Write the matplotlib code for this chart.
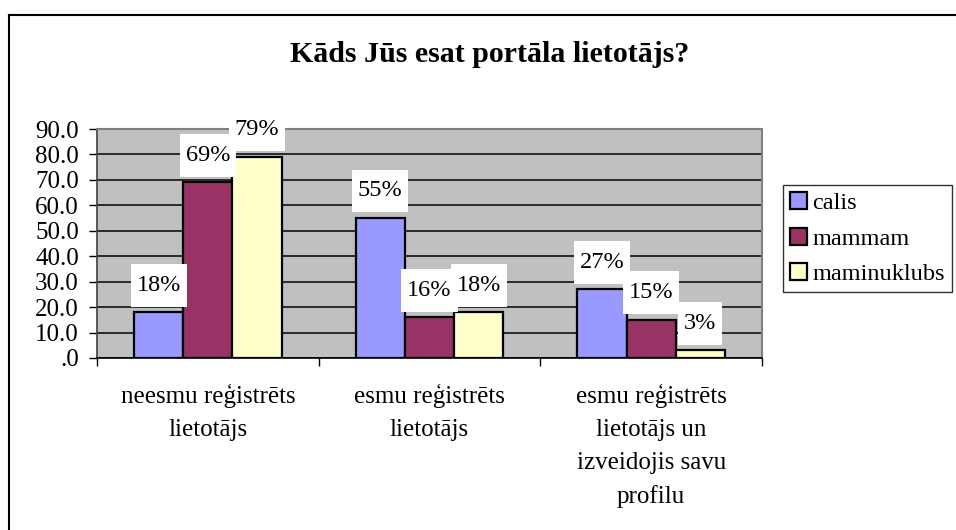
import matplotlib
matplotlib.use("Agg")
import matplotlib.pyplot as plt
from matplotlib.path import Path
import numpy as np

categories = ["neesmu reģistrēts\nlietotājs",
              "esmu reģistrēts\nlietotājs",
              "esmu reģistrēts\nlietotājs un\nizveidojis savu\nprofilu"]
series_names = ["calis", "mammam", "maminuklubs"]
calis = [18, 55, 27]
mammam = [69, 16, 15]
maminuklubs = [79, 18, 3]
series_values = [calis, mammam, maminuklubs]
colors = ["#9999FF", "#993366", "#FFFFCC"]
yticks = [0, 10, 20, 30, 40, 50, 60, 70, 80, 90]
title = "Kāds Jūs esat portāla lietotājs?"

plt.rcParams['font.family'] = ['Liberation Serif', 'DejaVu Serif']

W, H = 956, 530
fig = plt.figure(figsize=(W / 100, H / 100), dpi=100)
fig.patch.set_facecolor("white")

# outer chart border (left and top visible; right/bottom cut off)
fig.add_artist(plt.Line2D([8.5 / W, 8.5 / W], [0, 1 - 14.5 / H], transform=fig.transFigure,
                          color="black", lw=1.5))
fig.add_artist(plt.Line2D([8.5 / W, 1], [1 - 14.5 / H, 1 - 14.5 / H], transform=fig.transFigure,
                          color="black", lw=1.5))

left, right, top, bottom = 97 / W, 762 / W, 129 / H, 358 / H
ax = fig.add_axes([left, 1 - bottom, right - left, bottom - top])
ax.set_facecolor("#C0C0C0")


def label_box(x0, y0, width, height, mutation_size):
    padx = 0.24 * mutation_size
    pady = 0.45 * mutation_size
    return Path([(x0 - padx, y0 - pady), (x0 + width + padx, y0 - pady),
                 (x0 + width + padx, y0 + height + pady), (x0 - padx, y0 + height + pady),
                 (x0 - padx, y0 - pady)], closed=True)


x = np.arange(len(categories))
bw = 0.667 / 3
for i, (name, vals, c) in enumerate(zip(series_names, series_values, colors)):
    pos = x - bw + i * bw
    ax.bar(pos, vals, width=bw, color=c, edgecolor="black", linewidth=1.6,
           label=name, zorder=3)
    for px, v in zip(pos, vals):
        ax.annotate(f"{v}%", (px, v), xytext=(0, 19.5), textcoords="offset points",
                    ha="center", va="center", fontsize=17.5, zorder=5,
                    bbox=dict(boxstyle=label_box, fc="white", ec="none"),
                    annotation_clip=False)

ax.set_xlim(-0.5, 2.5)
ax.set_ylim(0, 90)
ax.set_yticks(yticks)
ax.set_yticklabels([(f"{t:.1f}" if t != 0 else ".0") for t in yticks], fontsize=18)
ax.yaxis.grid(True, color="#111111", linewidth=1.2, zorder=0)
ax.set_axisbelow(True)

ax.set_xticks([-0.5, 0.5, 1.5, 2.5])
ax.set_xticklabels([])
ax.set_xticks(x, minor=True)
ax.set_xticklabels(categories, minor=True, fontsize=18, linespacing=1.62, va="top")
ax.tick_params(axis="x", which="minor", length=0, pad=19)
ax.tick_params(axis="x", which="major", length=6, width=1, color="black", direction="out")
ax.tick_params(axis="y", length=6, width=1, color="black", direction="out", pad=7)

for s in ["top", "right"]:
    ax.spines[s].set_color("#808080")
    ax.spines[s].set_linewidth(1.5)
ax.spines["left"].set_color("#404040")
ax.spines["left"].set_linewidth(1.2)
ax.spines["bottom"].set_color("black")
ax.spines["bottom"].set_linewidth(1.2)

fig.text(490 / W, 1 - 54 / H, title, ha="center", va="center",
         fontsize=21.5, fontweight="bold")

leg = ax.legend(loc="upper left", bbox_to_anchor=(783 / W, 1 - 185 / H),
                bbox_transform=fig.transFigure, fontsize=17.5, frameon=True,
                fancybox=False, shadow=False, borderpad=0.3, labelspacing=0.55,
                handlelength=0.7, handleheight=0.7, handletextpad=0.2,
                borderaxespad=0)
leg.get_frame().set_edgecolor("black")
leg.get_frame().set_linewidth(1.0)
for h in leg.legend_handles:
    h.set_linewidth(1.6)

fig.savefig("out.png", dpi=100)
